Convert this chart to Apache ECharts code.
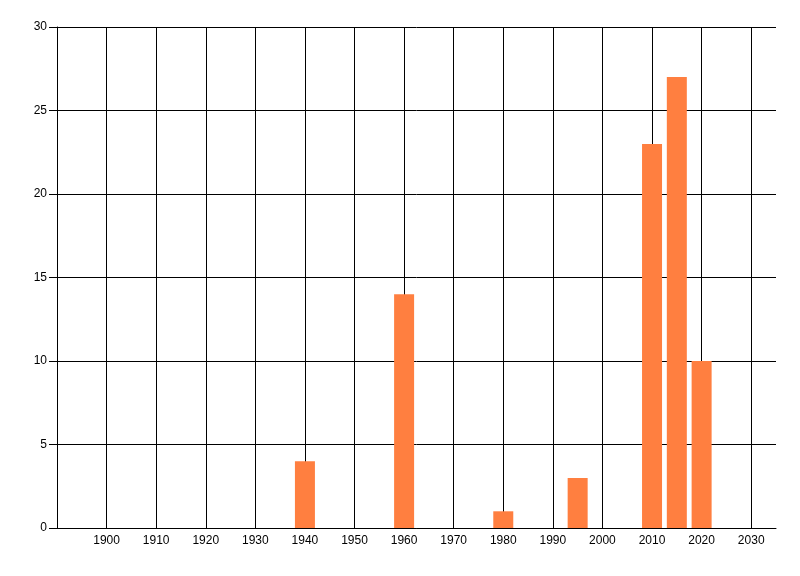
<!DOCTYPE html>
<html><head><meta charset="utf-8">
<script src="https://cdn.jsdelivr.net/npm/echarts@6/dist/echarts.min.js"></script>
<style>html,body{margin:0;padding:0;background:#fff}#c{width:800px;height:576px}</style>
</head><body><div id="c"></div>
<script>
var years = [1940, 1960, 1980, 1995, 2010, 2015, 2020];
var counts = [4, 14, 1, 3, 23, 27, 10];
var xTicks = [1900, 1910, 1920, 1930, 1940, 1950, 1960, 1970, 1980, 1990, 2000, 2010, 2020, 2030];
var xMin = 1890, xMax = 2035, xStep = 10;
var yMin = 0, yMax = 30, yStep = 5;

var chart = echarts.init(document.getElementById('c'));
chart.setOption({
  animation: false,
  backgroundColor: '#fff',
  grid: {left: 57, right: 24, top: 27, bottom: 48, show: false},
  xAxis: {
    type: 'value', min: xMin, max: xMax, interval: xStep,
    axisLine: {show: true, onZero: false, lineStyle: {color: '#000', width: 1}},
    axisTick: {show: false},
    axisLabel: {color: '#000', fontFamily: 'Liberation Sans', fontSize: 12, margin: 7,
      showMinLabel: false, showMaxLabel: false,
      formatter: function (v) { return xTicks.indexOf(v) >= 0 ? String(v) : ''; }},
    splitLine: {show: false}
  },
  yAxis: {
    type: 'value', min: yMin, max: yMax, interval: yStep,
    axisLine: {show: true, lineStyle: {color: '#000', width: 1}},
    axisTick: {show: true, length: 8, lineStyle: {color: '#000'}},
    axisLabel: {color: '#000', fontFamily: 'Liberation Sans', fontSize: 12, margin: 10},
    splitLine: {show: true, lineStyle: {color: '#000', width: 1}}
  },
  series: [{
    type: 'bar',
    barWidth: 20,
    itemStyle: {color: '#FF7F40'},
    data: years.map(function (y, i) { return [y, counts[i]]; }),
    markLine: {
      silent: true, symbol: ['none', 'none'], animation: false, z: 1,
      label: {show: false},
      lineStyle: {color: '#000', width: 1, type: 'solid'},
      emphasis: {disabled: true},
      data: xTicks.map(function (t) { return {xAxis: t}; })
    }
  }]
});
</script></body></html>
